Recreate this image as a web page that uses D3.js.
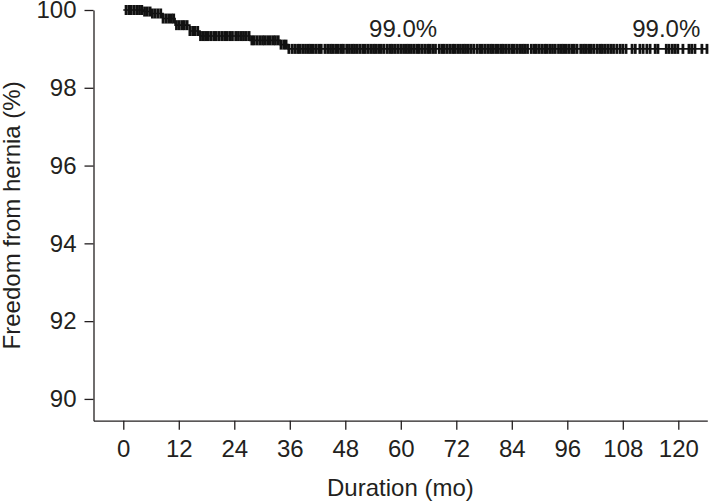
<!DOCTYPE html>
<html>
<head>
<meta charset="utf-8">
<script src="https://cdn.jsdelivr.net/npm/d3@7"></script>
<style>
  body { margin: 0; background: #fff; }
  text { font-family: "Liberation Sans", Arial, Helvetica, sans-serif; fill: #231f20; }
</style>
</head>
<body>
<div id="chart"></div>
<script>
// Kaplan-Meier steps (time in months, survival %)
const stepTimes = [0, 4.3, 6.2, 8.6, 11.2, 14.4, 16.6, 27.4, 33.9, 35.6];
const stepSurv = [100, 99.96, 99.91, 99.78, 99.61, 99.46, 99.33, 99.22, 99.11, 99.0];

// censored observations (months)
const censorTimes = [
  0.6, 1.2, 1.7, 2.3, 2.9, 3.5, 4.0, 4.6, 5.2, 5.8, 6.3, 6.9, 7.5, 8.1, 8.6, 9.2, 9.8, 10.4, 10.9, 11.5,
  12.1, 12.7, 13.2, 13.8, 14.4, 15.0, 15.5, 16.1, 16.7, 17.3, 17.8, 18.4, 19.0, 19.6, 20.1, 20.7, 21.3, 21.9, 22.4, 23.0, 23.6,
  24.3, 24.9, 25.5, 26.0, 26.6, 27.2, 27.8, 28.3, 28.9, 29.5, 30.1, 30.6, 31.2, 31.8, 32.4, 32.9, 33.5, 34.1, 34.7, 35.2, 35.8,
  36.5, 37.1, 37.7, 38.2, 38.8, 39.4, 40.0, 40.5, 41.1, 41.7, 42.3, 42.8, 43.6, 44.2, 44.8, 45.3, 45.9, 46.5, 47.1, 47.6,
  48.3, 48.9, 49.5, 50.0, 50.6, 51.2, 51.8, 52.3, 52.9, 53.5, 54.1, 54.6, 55.2, 55.8, 56.4, 57.1, 57.7, 58.2, 58.8, 59.4,
  60.0, 60.6, 61.2, 61.7, 62.3, 62.9, 63.5, 64.0, 64.6, 65.2, 65.8, 66.3, 66.9, 67.5, 68.3, 68.9, 69.4, 70.0, 70.6, 71.2, 71.7,
  72.3, 72.9, 73.5, 74.0, 74.6, 75.2, 75.8, 76.5, 77.1, 77.6, 78.2, 78.8, 79.4, 79.9, 80.5, 81.1, 81.7, 82.2, 82.8, 83.4,
  84.0, 84.5, 85.1, 85.7, 86.3, 86.8, 87.4, 88.2, 88.8, 89.3, 89.9, 90.5, 91.1, 91.6, 92.2, 92.8, 93.4, 94.1, 94.7, 95.2, 95.8,
  96.4, 97.0, 97.5, 98.1, 98.9, 99.5, 100.0, 100.6, 101.2, 101.8, 102.5, 103.1, 103.6, 104.2, 104.8, 105.4, 106.0,
  106.7, 107.4, 108.0, 108.7, 110.0, 110.7, 111.7, 112.4, 113.2, 113.9, 115.0, 115.6,
  117.4, 118.0, 118.7, 119.3, 119.9, 121.0, 122.3, 122.9, 123.6, 125.1, 126.2
];

const xTicks = [0, 12, 24, 36, 48, 60, 72, 84, 96, 108, 120];
const yTicks = [90, 92, 94, 96, 98, 100];

const labelTimes = [60.5, 117.4];
const labelValues = [99.0, 99.0];
const labelTexts = ['99.0%', '99.0%'];

const width = 709;
const height = 501;

const x = d3.scaleLinear().domain([-6.44, 126.27]).range([93.5, 707.3]);
const y = d3.scaleLinear().domain([89.44, 100]).range([420.7, 10]);

const svg = d3.select('#chart')
  .append('svg')
  .attr('width', width)
  .attr('height', height);

// Axes
const axisX = d3.axisBottom(x)
  .tickValues(xTicks)
  .tickSize(9)
  .tickSizeOuter(0)
  .tickPadding(10);

const axisY = d3.axisLeft(y)
  .tickValues(yTicks)
  .tickSize(9)
  .tickSizeOuter(0)
  .tickPadding(8);

const gx = svg.append('g')
  .attr('transform', 'translate(0,' + y.range()[0] + ')')
  .call(axisX);

const gy = svg.append('g')
  .attr('transform', 'translate(' + x.range()[0] + ',0)')
  .call(axisY);

[gx, gy].forEach(function (g) {
  g.selectAll('path, line').attr('stroke', '#231f20').attr('stroke-width', 1.3);
  g.selectAll('text').attr('font-size', '24px').attr('fill', '#231f20');
});

// Axis titles
svg.append('text')
  .attr('x', (x.range()[0] + x.range()[1]) / 2)
  .attr('y', 496)
  .attr('text-anchor', 'middle')
  .attr('font-size', '24px')
  .text('Duration (mo)');

svg.append('text')
  .attr('transform', 'translate(20,' + (y.range()[0] + y.range()[1]) / 2 + ') rotate(-90)')
  .attr('text-anchor', 'middle')
  .attr('font-size', '24px')
  .text('Freedom from hernia (%)');

// Survival lookup at time t
function survAt(t) {
  let s = stepSurv[0];
  for (let i = 0; i < stepTimes.length; i++) {
    if (stepTimes[i] <= t) s = stepSurv[i];
  }
  return s;
}

const lastTime = censorTimes[censorTimes.length - 1];
const stepData = stepTimes.map(function (t, i) { return [t, stepSurv[i]]; });
stepData.push([lastTime, stepSurv[stepSurv.length - 1]]);

const line = d3.line()
  .x(function (d) { return x(d[0]); })
  .y(function (d) { return y(d[1]); })
  .curve(d3.curveStepAfter);

svg.append('path')
  .datum(stepData)
  .attr('fill', 'none')
  .attr('stroke', '#111')
  .attr('stroke-width', 1.6)
  .attr('d', line);

// Censor marks
svg.append('g')
  .selectAll('line')
  .data(censorTimes)
  .enter()
  .append('line')
  .attr('x1', function (d) { return x(d); })
  .attr('x2', function (d) { return x(d); })
  .attr('y1', function (d) { return y(survAt(d)) - 5; })
  .attr('y2', function (d) { return y(survAt(d)) + 5; })
  .attr('stroke', '#111')
  .attr('stroke-width', 2.8);

// Value labels
svg.append('g')
  .selectAll('text')
  .data(labelTexts)
  .enter()
  .append('text')
  .attr('x', function (d, i) { return x(labelTimes[i]); })
  .attr('y', function (d, i) { return y(labelValues[i]) - 12; })
  .attr('text-anchor', 'middle')
  .attr('font-size', '24px')
  .text(function (d) { return d; });
</script>
</body>
</html>
